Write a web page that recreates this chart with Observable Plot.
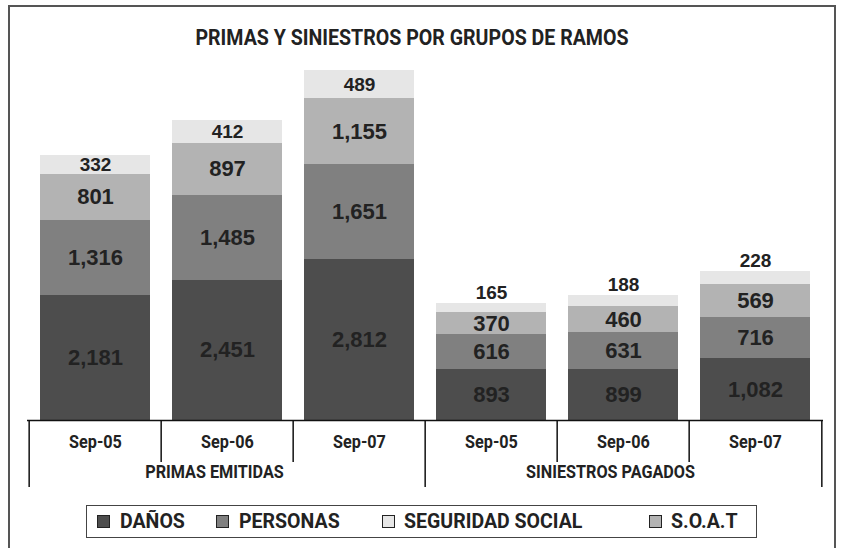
<!DOCTYPE html>
<html>
<head>
<meta charset="utf-8">
<script src="https://cdn.jsdelivr.net/npm/d3@7"></script>
<script src="https://cdn.jsdelivr.net/npm/@observablehq/plot@0.6"></script>
<style>
  html, body { margin: 0; padding: 0; background: #fff; }
  #wrap { position: relative; width: 841px; height: 548px; overflow: hidden; background: #fff; }
  #frame { position: absolute; left: 8px; top: 5px; width: 828px; height: 560px; border: 2px solid #555; box-sizing: border-box; }
  .cond { font-family: Roboto, "Liberation Sans", sans-serif; font-weight: bold; color: #222; }
  #title { position: absolute; left: 0; width: 824px; top: 25px; line-height: 26px; text-align: center; font-size: 22px; transform: scaleX(0.89); }
  #chart { position: absolute; left: 0; top: 60px; }
  #legend { position: absolute; left: 86px; top: 505px; width: 671px; height: 33px; border: 1.5px solid #444; box-sizing: border-box; font-size: 21px; }
  .sw { position: absolute; top: 9px; width: 13px; height: 13px; border: 1.5px solid #222; box-sizing: border-box; }
  .lt { position: absolute; top: 3px; line-height: 24px; white-space: nowrap; transform: scaleX(0.93); transform-origin: 0 50%; }
</style>
</head>
<body>
<div id="wrap">
  <div id="frame"></div>
  <div id="title" class="cond"></div>
  <div id="chart"></div>
  <div id="legend" class="cond"></div>
</div>
<script>
const title = "PRIMAS Y SINIESTROS POR GRUPOS DE RAMOS";
const groups = ["PRIMAS EMITIDAS", "SINIESTROS PAGADOS"];
const periods = ["Sep-05", "Sep-06", "Sep-07"];
// stacking order, bottom to top
const seriesNames = ["DAÑOS", "PERSONAS", "S.O.A.T", "SEGURIDAD SOCIAL"];
const legendOrder = ["DAÑOS", "PERSONAS", "SEGURIDAD SOCIAL", "S.O.A.T"];
// values per bar: Primas Sep-05, Sep-06, Sep-07, Siniestros Sep-05, Sep-06, Sep-07
const danos     = [2181, 2451, 2812, 893, 899, 1082];
const personas  = [1316, 1485, 1651, 616, 631, 716];
const soat      = [801, 897, 1155, 370, 460, 569];
const seguridad = [332, 412, 489, 165, 188, 228];
const seriesColors = ["#4d4d4d", "#808080", "#b3b3b3", "#e6e6e6"];

const values = [danos, personas, soat, seguridad];
const keys = [];
groups.forEach(g => periods.forEach(p => keys.push(g + "|" + p)));

const rows = [];
keys.forEach((k, i) => {
  let base = 0;
  seriesNames.forEach((s, j) => {
    const v = values[j][i];
    rows.push({key: k, series: s, value: v, y1: base, y2: base + v, mid: base + v / 2,
               small: v < 300, top: j === seriesNames.length - 1});
    base += v;
  });
});

document.getElementById("title").textContent = title;

const W = 841, H = 427, baseline = 360;
const mL = 27, mR = 18;
const step = (W - mL - mR) / keys.length;
const condFont = "Roboto, Liberation Sans, sans-serif";
const numFont = "Liberation Sans, Arial, sans-serif";
const condScale = 0.9;

const tickRows = keys.map(k => ({key: k, label: k.split("|")[1]}));
const groupRows = groups.map(g => ({key: g + "|" + periods[1], label: g}));
const shortDiv = keys.filter((k, i) => i % periods.length !== 0);
const longDiv = keys.filter((k, i) => i % periods.length === 0);

const inner = rows.filter(d => !(d.top && d.small));
const above = rows.filter(d => d.top && d.small);
const fmt = d3.format(",");

const chart = Plot.plot({
  width: W,
  height: H,
  marginLeft: mL,
  marginRight: mR,
  marginTop: 0,
  marginBottom: 0,
  x: {type: "band", domain: keys, paddingInner: 0.17, paddingOuter: 0.085, axis: null},
  y: {domain: [0, 7000], range: [baseline, 19 - 60], axis: null},
  color: {domain: seriesNames, range: seriesColors},
  style: {background: "transparent", overflow: "visible"},
  marks: [
    Plot.rectY(rows, {x: "key", y1: "y1", y2: "y2", fill: "series", shapeRendering: "crispEdges"}),
    Plot.text(inner, {x: "key", y: "mid", text: d => fmt(d.value),
      fontSize: d => d.top ? 19 : 22, fontWeight: "bold", fill: "#222", fontFamily: numFont}),
    Plot.text(above, {x: "key", y: "y2", dy: -11, text: d => fmt(d.value),
      fontSize: 19, fontWeight: "bold", fill: "#222", fontFamily: numFont}),
    Plot.ruleY([0], {stroke: "#111", strokeWidth: 1.5}),
    // category dividers below the baseline
    Plot.ruleX(shortDiv, {x: d => d, y1: 0, y2: 0, dx: -step / 2, insetBottom: -42, stroke: "#111", strokeWidth: 1.5}),
    Plot.ruleX(longDiv, {x: d => d, y1: 0, y2: 0, dx: -step / 2, insetBottom: -67, stroke: "#111", strokeWidth: 1.5}),
    Plot.ruleX([keys[keys.length - 1]], {x: d => d, y1: 0, y2: 0, dx: step / 2, insetBottom: -67, stroke: "#111", strokeWidth: 1.5}),
    Plot.text(tickRows, {x: "key", y: 0, dy: 22, text: "label", fontSize: 18, fontWeight: "bold",
      fill: "#222", fontFamily: condFont}),
    Plot.text(groupRows, {x: "key", y: 0, dy: 52, dx: -13, text: "label", fontSize: 18, fontWeight: "bold",
      fill: "#222", fontFamily: condFont})
  ]
});
// condense the axis labels horizontally (the reference uses a condensed face)
chart.querySelectorAll("g[font-family^='Roboto'] text").forEach(t => {
  const tr = t.getAttribute("transform");
  if (tr) t.setAttribute("transform", tr + ` scale(${condScale},1)`);
});
document.getElementById("chart").appendChild(chart);

const legendSw = [10, 129, 295, 562];
const legendTx = [33, 152, 317, 584];
const legend = document.getElementById("legend");
legendOrder.forEach((s, i) => {
  const sw = document.createElement("div");
  sw.className = "sw";
  sw.style.left = legendSw[i] + "px";
  sw.style.background = seriesColors[seriesNames.indexOf(s)];
  legend.appendChild(sw);
  const tx = document.createElement("div");
  tx.className = "lt";
  tx.style.left = legendTx[i] + "px";
  tx.textContent = s;
  legend.appendChild(tx);
});
</script>
</body>
</html>
